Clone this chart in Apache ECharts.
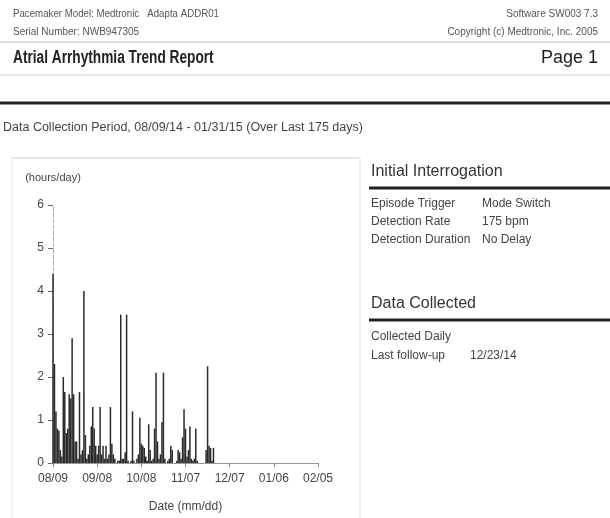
<!DOCTYPE html>
<html>
<head>
<meta charset="utf-8">
<script src="https://cdn.jsdelivr.net/npm/echarts@6/dist/echarts.min.js"></script>
<style>
html,body{margin:0;padding:0;background:#fff;}
#c{width:610px;height:518px;}
</style>
</head>
<body>
<div id="c"></div>
<script>
// Day offsets from 08/09 and hours/day of atrial arrhythmia
var hoursPerDay = [
  4.4, 2.3, 1.2, 0.8, 0.75, 0.3, 0.15, 2.0, 1.65, 0.7,
  0.8, 1.6, 1.5, 2.9, 1.6, 0.5, 0.5, 0.1, 1.65, 0.2,
  0.3, 4.0, 0.65, 0.1, 0.2, 0.4, 0.85, 1.3, 0.8, 0.4,
  0.2, 0.4, 1.3, 0.2, 0.4, 0.1, 0.4, 0.1, 0.2, 1.3,
  0.45, 0.2, 0.1, 0, 0.05, 0.05, 3.45, 0.1, 0.1, 0.25,
  3.45, 0.05, 0, 0.05, 1.2, 0.05, 0, 0.1, 0.2, 1.05,
  0.45, 0.4, 0.35, 0.15, 0.05, 0.9, 0.3, 0.05, 0.1, 0.8,
  2.1, 0.5, 0.1, 0.2, 0.95, 2.1, 0.1, 0, 0.05, 0.1,
  0.4, 0.3, 0, 0, 0.05, 0.3, 0.25, 0.1, 0.6, 1.25,
  0.8, 0.15, 0.3, 0.85, 0.1, 0.05, 0.1, 0.8, 0.05, 0,
  0, 0, 0, 0, 0.3, 2.25, 0.4, 0.35, 0.05, 0.35,
  0
];
var xTickLabels = ['08/09', '09/08', '10/08', '11/07', '12/07', '01/06', '02/05'];
var yTickLabels = ['0', '1', '2', '3', '4', '5', '6'];

var FONT = '"Liberation Sans", Arial, sans-serif';
var barData = hoursPerDay.map(function (v, i) { return [i, v]; });

var chart = echarts.init(document.getElementById('c'), null, {renderer: 'canvas'});

function txt(x, y, s, size, opts) {
  opts = opts || {};
  return {
    type: 'text', x: x, y: y, silent: true,
    scaleX: opts.sx || 1,
    style: {
      text: s, fontFamily: FONT, fontSize: size, fill: opts.color || '#333',
      fontWeight: opts.weight || 'normal', textAlign: opts.align || 'left',
      textVerticalAlign: 'middle'
    }
  };
}
function line(x1, y1, x2, y2, w, col) {
  return {type: 'line', silent: true, shape: {x1: x1, y1: y1, x2: x2, y2: y2},
          style: {stroke: col, lineWidth: w}};
}

var option = {
  backgroundColor: '#fff',
  animation: false,
  grid: {left: 53, right: 292, top: 205, bottom: 47},
  xAxis: {
    type: 'value', min: 0, max: 180, interval: 30,
    name: 'Date (mm/dd)', nameLocation: 'middle', nameGap: 38,
    nameTextStyle: {fontFamily: FONT, fontSize: 12, color: '#444'},
    axisLine: {show: true, lineStyle: {color: '#999', width: 1}},
    axisTick: {show: true, length: 4, lineStyle: {color: '#888'}},
    splitLine: {show: false},
    axisLabel: {
      fontFamily: FONT, fontSize: 12, color: '#444', margin: 10,
      formatter: function (v) { return xTickLabels[Math.round(v / 30)] || ''; }
    }
  },
  yAxis: {
    type: 'value', min: 0, max: 6, interval: 1,
    name: '(hours/day)', nameLocation: 'end', nameGap: 22,
    nameTextStyle: {fontFamily: FONT, fontSize: 11, color: '#444', align: 'center'},
    axisLine: {show: true, lineStyle: {color: '#aaa', width: 1, type: 'dashed'}},
    axisTick: {show: true, length: 5, lineStyle: {color: '#666'}},
    splitLine: {show: false},
    axisLabel: {
      fontFamily: FONT, fontSize: 12, color: '#444', margin: 9,
      formatter: function (v) { return yTickLabels[Math.round(v)]; }
    }
  },
  series: [{
    type: 'bar',
    data: barData,
    barWidth: 1.5,
    itemStyle: {color: '#2a2a2a'},
    silent: true
  }],
  graphic: [
    txt(13, 14, 'Pacemaker Model: Medtronic   Adapta ADDR01', 10, {color: '#555', sx: 0.97}),
    txt(13, 32, 'Serial Number: NWB947305', 10, {color: '#555'}),
    txt(598, 14, 'Software SW003 7.3', 10, {color: '#555', align: 'right'}),
    txt(598, 32, 'Copyright (c) Medtronic, Inc. 2005', 10, {color: '#555', align: 'right'}),
    line(0, 42, 610, 42, 1, '#bbb'),
    txt(13, 58, 'Atrial Arrhythmia Trend Report', 18, {color: '#222', weight: 'bold', sx: 0.76}),
    txt(598, 58, 'Page 1', 18, {color: '#222', align: 'right'}),
    line(0, 75, 610, 75, 1, '#ccc'),
    line(0, 103, 610, 103, 3, '#222'),
    txt(3, 128, 'Data Collection Period, 08/09/14 - 01/31/15 (Over Last 175 days)', 12.5, {color: '#444'}),
    line(12, 158, 360, 158, 1, '#ccc'),
    line(12, 158, 12, 518, 1, '#e2e2e2'),
    line(360, 158, 360, 518, 1, '#ddd'),
    txt(371, 172, 'Initial Interrogation', 16, {color: '#333'}),
    line(369, 188, 610, 188, 3, '#222'),
    txt(371, 204, 'Episode Trigger', 12, {color: '#444'}),
    txt(482, 204, 'Mode Switch', 12, {color: '#444'}),
    txt(371, 222, 'Detection Rate', 12, {color: '#444'}),
    txt(482, 222, '175 bpm', 12, {color: '#444'}),
    txt(371, 240, 'Detection Duration', 12, {color: '#444'}),
    txt(482, 240, 'No Delay', 12, {color: '#444'}),
    txt(371, 304, 'Data Collected', 16, {color: '#333'}),
    line(369, 320, 610, 320, 3, '#222'),
    txt(371, 337, 'Collected Daily', 12, {color: '#444'}),
    txt(371, 356, 'Last follow-up', 12, {color: '#444'}),
    txt(470, 356, '12/23/14', 12, {color: '#444'})
  ]
};
chart.setOption(option);
</script>
</body>
</html>
